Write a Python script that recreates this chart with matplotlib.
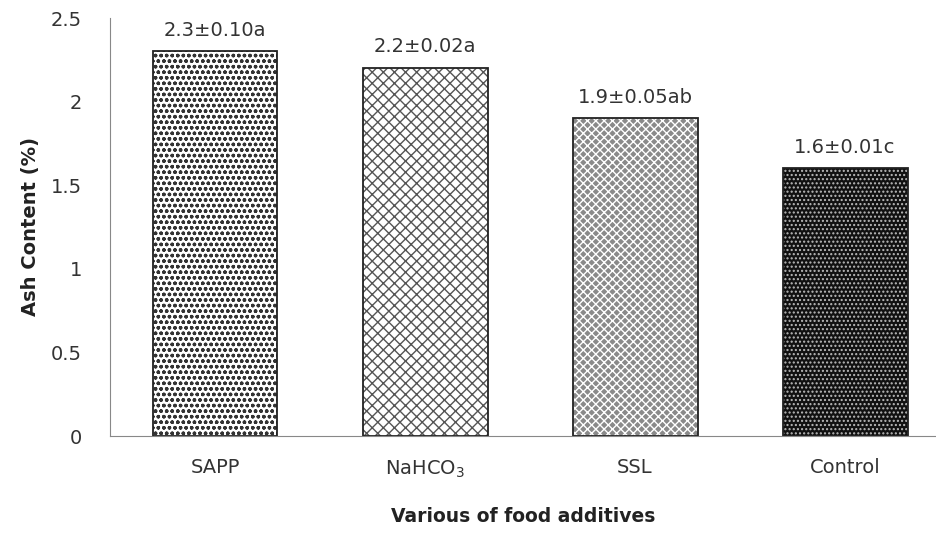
import numpy as np
import matplotlib
matplotlib.use("Agg")
import matplotlib.pyplot as plt

# dane
categories = ["SAPP", "NaHCO$_3$", "SSL", "Control"]
values = [2.3, 2.2, 1.9, 1.6]
labels = ["2.3±0.10a", "2.2±0.02a", "1.9±0.05ab", "1.6±0.01c"]
yticks = [0, 0.5, 1, 1.5, 2, 2.5]

plt.rcParams["font.family"] = ["DejaVu Sans"]
plt.rcParams["hatch.linewidth"] = 1.0

fig = plt.figure(figsize=(9.36, 5.33), dpi=100)
ax = fig.add_axes([110/936, 97/533, 826/936, 418/533])

x = np.arange(len(categories))
w = 0.595

# wypełnienia (kolor, kreskowanie, kolor kreskowania)
styles = [
    ("white", "ooo", "#333333"),
    ("white", "xxx", "#555555"),
    ("#8a8a8a", "xxxx", "white"),
    ("#111111", "....", "#bbbbbb"),
]

for xi, v, (fc, h, hc) in zip(x, values, styles):
    ax.bar(xi, v, w, color=fc, hatch=h, edgecolor=hc, linewidth=0)
    ax.bar(xi, v, w, fill=False, edgecolor="#222222", linewidth=1.3)

for xi, v, lab in zip(x, values, labels):
    ax.text(xi, v + 0.07, lab, ha="center", va="bottom", fontsize=14, color="#333333")

ax.set_xlim(-0.5, 3.433)
ax.set_ylim(0, 2.5)
ax.set_yticks(yticks)
ax.set_yticklabels(["0", "0.5", "1", "1.5", "2", "2.5"])
ax.set_xticks(x)
ax.set_xticklabels(categories)
ax.tick_params(axis="both", length=0, labelsize=14, colors="#333333")
ax.tick_params(axis="x", pad=16)
ax.tick_params(axis="y", pad=20)

for s in ["top", "right"]:
    ax.spines[s].set_visible(False)
ax.spines["left"].set_color("#888888")
ax.spines["bottom"].set_color("#888888")

ax.set_ylabel("Ash Content (%)", fontsize=14, fontweight="bold", color="#222222", labelpad=8)
ax.set_xlabel("Various of food additives", fontsize=13.5, fontweight="bold", color="#222222", labelpad=20)

fig.savefig("out.png", dpi=100)
